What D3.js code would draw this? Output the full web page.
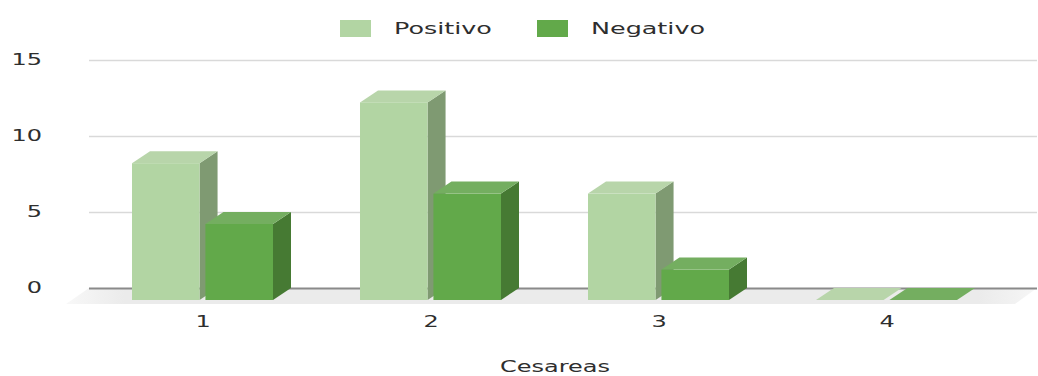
<!DOCTYPE html>
<html lang="en">
<head>
  <meta charset="utf-8">
  <title>Cesareas</title>
  <script src="https://d3js.org/d3.v7.min.js"></script>
  <style>
    body { margin: 0; background: #fff; }
    svg { display: block; }
    text { font-family: "DejaVu Sans", sans-serif; fill: #2e2e2e; }
  </style>
</head>
<body>
  <div id="my_dataviz"></div>
  <script>
    // data
    var categories = ["1", "2", "3", "4"];
    var seriesNames = ["Positivo", "Negativo"];
    var positivo = [9, 13, 7, 0];
    var negativo = [5, 7, 2, 0];
    var yTicks = [0, 5, 10, 15];

    var colors = {
      Positivo: { front: "#b2d5a3", top: "#b8d5aa", side: "#7f9a72" },
      Negativo: { front: "#62a94a", top: "#74ae60", side: "#467a33" }
    };

    var width = 1038, height = 376;
    // offset of the back wall from the front plane of the bars
    var depthX = 18, depthY = 12;

    var svg = d3.select("#my_dataviz").append("svg")
      .attr("width", width)
      .attr("height", height);

    var y = d3.scaleLinear().domain([0, 15]).range([288, 60]);
    var x0 = d3.scaleBand().domain(categories).range([89, 1001]);
    var x1 = d3.scaleBand().domain(seriesNames).range([43, 184]).paddingInner(0.08);

    // the glyphs are drawn wider than the font's natural proportions
    function widen(selection, factor) {
      selection.each(function () {
        var len = this.getComputedTextLength();
        d3.select(this)
          .attr("textLength", len * factor)
          .attr("lengthAdjust", "spacingAndGlyphs");
      });
    }

    // floor of the 3d plot, fading out towards both ends
    var defs = svg.append("defs");
    var floorGrad = defs.append("linearGradient")
      .attr("id", "floorGrad").attr("x1", 0).attr("x2", 1).attr("y1", 0).attr("y2", 0);
    floorGrad.append("stop").attr("offset", "0%").attr("stop-color", "#f8f8f8");
    floorGrad.append("stop").attr("offset", "6%").attr("stop-color", "#ebebeb");
    floorGrad.append("stop").attr("offset", "94%").attr("stop-color", "#ebebeb");
    floorGrad.append("stop").attr("offset", "100%").attr("stop-color", "#f6f6f6");

    svg.append("path")
      .attr("d", d3.line()([[89, y(0)], [1037, y(0)], [1015, y(0) + 16], [66, y(0) + 16]]))
      .attr("fill", "url(#floorGrad)");

    // y axis + gridlines
    var yAxis = svg.append("g")
      .attr("transform", "translate(89,0)")
      .call(d3.axisLeft(y).tickValues(yTicks).tickSize(-948).tickPadding(47));
    yAxis.select(".domain").remove();
    yAxis.selectAll("line")
      .attr("stroke", function (d) { return d === 0 ? "#8a8a8a" : "#d9d9d9"; })
      .attr("stroke-width", function (d) { return d === 0 ? 2 : 1.5; });
    yAxis.selectAll("text").style("font-size", "15px").attr("dy", "0.3em");
    widen(yAxis.selectAll("text"), 1.6);

    // x axis
    var xAxis = svg.append("g")
      .attr("transform", "translate(0,305)")
      .call(d3.axisBottom(x0).tickSize(0).tickPadding(11));
    xAxis.select(".domain").remove();
    xAxis.selectAll("text").style("font-size", "15px");
    widen(xAxis.selectAll("text"), 1.6);

    // bars: side and top faces first, front face last
    var rows = [];
    categories.forEach(function (c, i) {
      rows.push({ cat: c, name: "Positivo", value: positivo[i] });
      rows.push({ cat: c, name: "Negativo", value: negativo[i] });
    });

    var bars = svg.append("g").selectAll("g").data(rows).enter().append("g");

    function barBox(d) {
      var left = x0(d.cat) + x1(d.name);
      return {
        left: left,
        right: left + x1.bandwidth(),
        top: y(d.value) + depthY,
        bottom: y(0) + depthY
      };
    }

    bars.append("path")
      .attr("fill", function (d) { return colors[d.name].side; })
      .attr("d", function (d) {
        var b = barBox(d);
        return d3.line()([[b.right, b.top], [b.right + depthX, b.top - depthY],
          [b.right + depthX, b.bottom - depthY], [b.right, b.bottom]]);
      });

    bars.append("path")
      .attr("fill", function (d) { return colors[d.name].top; })
      .attr("d", function (d) {
        var b = barBox(d);
        return d3.line()([[b.left, b.top], [b.left + depthX, b.top - depthY],
          [b.right + depthX, b.top - depthY], [b.right, b.top]]);
      });

    bars.append("rect")
      .attr("fill", function (d) { return colors[d.name].front; })
      .attr("x", function (d) { return barBox(d).left; })
      .attr("y", function (d) { return barBox(d).top; })
      .attr("width", x1.bandwidth())
      .attr("height", function (d) { var b = barBox(d); return b.bottom - b.top; });

    // legend
    var legendX = d3.scaleOrdinal().domain(seriesNames).range([340, 537]);
    var legend = svg.append("g").selectAll("g").data(seriesNames).enter().append("g")
      .attr("transform", function (d) { return "translate(" + legendX(d) + ",20)"; });
    legend.append("rect")
      .attr("width", 31).attr("height", 17)
      .attr("fill", function (d) { return colors[d].front; });
    legend.append("text")
      .attr("x", 54).attr("y", 13.5)
      .style("font-size", "15.5px")
      .text(function (d) { return d; });
    widen(legend.selectAll("text"), 1.64);

    // x axis title
    var title = svg.append("text")
      .attr("x", 555).attr("y", 372)
      .attr("text-anchor", "middle")
      .style("font-size", "15px")
      .text("Cesareas");
    widen(title, 1.6);
  </script>
</body>
</html>
